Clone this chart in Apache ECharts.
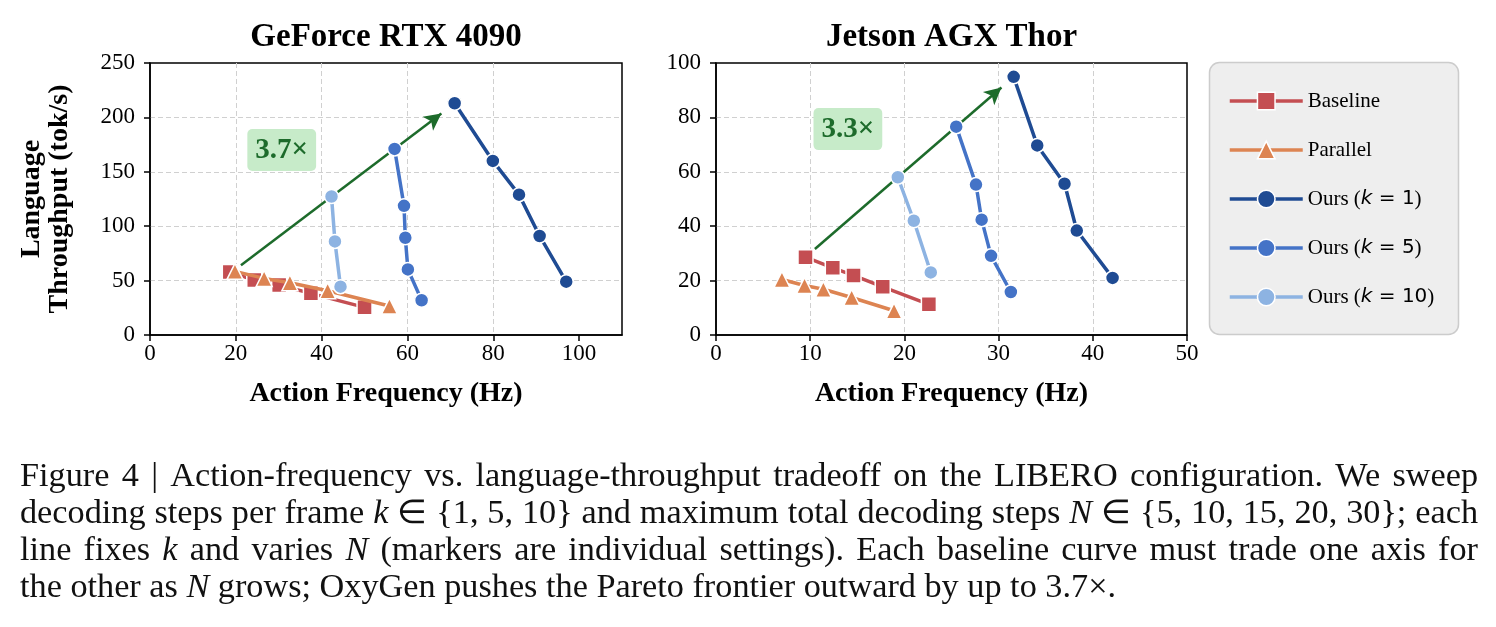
<!DOCTYPE html>
<html>
<head>
<meta charset="utf-8">
<script src="https://cdn.jsdelivr.net/npm/echarts@6/dist/echarts.min.js"></script>
<style>
  html, body { margin: 0; padding: 0; background: #fff; }
  #main { width: 1496px; height: 627px; }
</style>
</head>
<body>
<div id="main"></div>
<script>
// ---- data ----
const seriesNames = ['Baseline', 'Parallel', 'Ours (k = 1)', 'Ours (k = 5)', 'Ours (k = 10)'];

// GeForce RTX 4090
const gpuBaselineX = [18.6, 24.3, 30.1, 37.5, 50.0];
const gpuBaselineY = [57.8, 50.5, 46.0, 38.3, 25.4];
const gpuParallelX = [19.8, 26.6, 32.6, 41.4, 55.8];
const gpuParallelY = [58.5, 52.0, 48.0, 40.7, 26.6];
const gpuK1X = [71.0, 79.9, 86.0, 90.8, 97.0];
const gpuK1Y = [213, 160, 129, 91, 49];
const gpuK5X = [57.0, 59.2, 59.5, 60.1, 63.3];
const gpuK5Y = [171, 118.7, 89.4, 60.3, 31.9];
const gpuK10X = [42.3, 43.1, 44.4];
const gpuK10Y = [127.3, 86, 44.4];

// Jetson AGX Thor
const thorBaselineX = [9.5, 12.4, 14.6, 17.7, 22.6];
const thorBaselineY = [28.6, 24.7, 21.9, 17.7, 11.3];
const thorParallelX = [7.0, 9.4, 11.4, 14.4, 18.9];
const thorParallelY = [20.4, 18.2, 16.8, 13.8, 8.9];
const thorK1X = [31.6, 34.1, 37.0, 38.3, 42.1];
const thorK1Y = [94.9, 69.7, 55.6, 38.4, 21.0];
const thorK5X = [25.5, 27.6, 28.2, 29.2, 31.3];
const thorK5Y = [76.6, 55.3, 42.4, 29.1, 15.8];
const thorK10X = [19.3, 21.0, 22.8];
const thorK10Y = [58.0, 42.0, 23.0];

// tick labels
const gpuXTicks = [0, 20, 40, 60, 80, 100];
const gpuYTicks = [0, 50, 100, 150, 200, 250];
const thorXTicks = [0, 10, 20, 30, 40, 50];
const thorYTicks = [0, 20, 40, 60, 80, 100];

// annotations (arrow start/end, speedup label)
const gpuArrow = [[21.2, 64], [67.9, 203.6]];
const thorArrow = [[10.5, 31.6], [30.3, 91]];
const gpuSpeedup = { at: [30.7, 170], text: '3.7×' };
const thorSpeedup = { at: [14.0, 75.7], text: '3.3×' };

const captionLines = [
  [['Figure 4 | Action-frequency vs. language-throughput tradeoff on the LIBERO configuration. We sweep', 0]],
  [['decoding steps per frame ', 0], ['k', 1], [' ∈ {1, 5, 10} and maximum total decoding steps ', 0], ['N', 1], [' ∈ {5, 10, 15, 20, 30}; each', 0]],
  [['line fixes ', 0], ['k', 1], [' and varies ', 0], ['N', 1], [' (markers are individual settings). Each baseline curve must trade one axis for', 0]],
  [['the other as ', 0], ['N', 1], [' grows; OxyGen pushes the Pareto frontier outward by up to 3.7×.', 0]]
];

// ---- styling ----
const serif = '"Liberation Serif", "Times New Roman", serif';
const colors = {
  'Baseline': '#c44e52',
  'Parallel': '#dd8452',
  'Ours (k = 1)': '#1f4b93',
  'Ours (k = 5)': '#4473c7',
  'Ours (k = 10)': '#8db3e2'
};
const symbols = {
  'Baseline': ['rect', 15],
  'Parallel': ['triangle', 16],
  'Ours (k = 1)': ['circle', 14],
  'Ours (k = 5)': ['circle', 14],
  'Ours (k = 10)': ['circle', 14]
};
const green = '#1d6b2b';

function pairs(xs, ys) {
  return xs.map((x, i) => [x, ys[i]]);
}

function lineSeries(name, xs, ys, gi, z) {
  return {
    name: name,
    type: 'line',
    xAxisIndex: gi,
    yAxisIndex: gi,
    data: pairs(xs, ys),
    symbol: symbols[name][0],
    symbolSize: symbols[name][1],
    showAllSymbol: true,
    z: z,
    lineStyle: { width: 3.5, color: colors[name] },
    itemStyle: { color: colors[name], borderColor: '#fff', borderWidth: 1.5 },
    emphasis: { disabled: true },
    silent: true
  };
}

function annotSeries(gi, arrow, speedup) {
  return {
    name: 'annot' + gi,
    type: 'line',
    xAxisIndex: gi,
    yAxisIndex: gi,
    data: [],
    z: 1,
    silent: true,
    markLine: {
      silent: true,
      symbol: ['none', 'arrow'],
      symbolSize: [13, 17],
      label: { show: false },
      lineStyle: { color: green, width: 2.5, type: 'solid' },
      emphasis: { disabled: true },
      data: [[{ coord: arrow[0] }, { coord: arrow[1] }]]
    },
    markPoint: {
      silent: true,
      symbol: 'rect',
      symbolSize: 1,
      itemStyle: { color: 'rgba(0,0,0,0)' },
      label: {
        show: true,
        position: 'inside',
        formatter: speedup.text,
        color: green,
        fontFamily: serif,
        fontWeight: 'bold',
        fontSize: 29,
        lineHeight: 30,
        backgroundColor: '#c7ebc9',
        borderRadius: 5,
        padding: [6, 8, 6, 8]
      },
      data: [{ coord: speedup.at }]
    }
  };
}

function valueAxis(gi, max, ticks, margin, extra) {
  const ax = {
    type: 'value',
    gridIndex: gi,
    min: 0,
    max: max,
    interval: ticks[1] - ticks[0],
    axisLine: { show: true, onZero: false, lineStyle: { color: '#000', width: 1.5 } },
    axisTick: { show: true, inside: false, length: 6, lineStyle: { color: '#000', width: 1.5 }, customValues: ticks },
    axisLabel: { color: '#000', fontFamily: serif, fontSize: 23, margin: margin, customValues: ticks },
    splitLine: { show: true, showMinLine: false, showMaxLine: false, lineStyle: { color: '#d0d0d0', width: 1, type: [5, 3] } }
  };
  return Object.assign(ax, extra || {});
}

const axisNameStyle = { fontFamily: serif, fontWeight: 'bold', fontSize: 28, color: '#000' };

const option = {
  animation: false,
  backgroundColor: '#fff',
  grid: [
    { left: 150, right: 874, top: 63, bottom: 292, show: true, borderColor: '#000', borderWidth: 1.5, backgroundColor: 'transparent' },
    { left: 716, right: 309, top: 63, bottom: 292, show: true, borderColor: '#000', borderWidth: 1.5, backgroundColor: 'transparent' }
  ],
  xAxis: [
    valueAxis(0, 110, gpuXTicks, 7, { name: 'Action Frequency (Hz)', nameLocation: 'middle', nameGap: 45, nameTextStyle: axisNameStyle }),
    valueAxis(1, 50, thorXTicks, 7, { name: 'Action Frequency (Hz)', nameLocation: 'middle', nameGap: 45, nameTextStyle: axisNameStyle })
  ],
  yAxis: [
    valueAxis(0, 250, gpuYTicks, 15, {
      name: 'Language\nThroughput (tok/s)', nameLocation: 'middle', nameGap: 76,
      nameTextStyle: Object.assign({ lineHeight: 28 }, axisNameStyle)
    }),
    valueAxis(1, 100, thorYTicks, 15)
  ],
  legend: {
    data: seriesNames,
    orient: 'vertical',
    left: 1223,
    top: 85,
    itemWidth: 73,
    itemHeight: 22,
    itemGap: 27,
    itemTextGap: 14,
    selectedMode: false,
    lineStyle: { width: 3.5 },
    itemStyle: { borderColor: '#fff', borderWidth: 1.5 },
    textStyle: {
      fontFamily: serif, fontSize: 21, color: '#000', lineHeight: 22,
      rich: {
        i: { fontFamily: '"DejaVu Sans"', fontStyle: 'italic', fontSize: 20, lineHeight: 22 },
        m: { fontFamily: '"DejaVu Sans"', fontSize: 20, lineHeight: 22 }
      }
    },
    formatter: function (name) {
      const m = name.match(/^Ours \(k = (\d+)\)$/);
      if (!m) return name;
      return 'Ours ({i|k}{m| = ' + m[1] + '})';
    }
  },
  graphic: [],
  series: [
    annotSeries(0, gpuArrow, gpuSpeedup),
    lineSeries('Baseline', gpuBaselineX, gpuBaselineY, 0, 2),
    lineSeries('Parallel', gpuParallelX, gpuParallelY, 0, 3),
    lineSeries('Ours (k = 1)', gpuK1X, gpuK1Y, 0, 4),
    lineSeries('Ours (k = 5)', gpuK5X, gpuK5Y, 0, 5),
    lineSeries('Ours (k = 10)', gpuK10X, gpuK10Y, 0, 6),
    annotSeries(1, thorArrow, thorSpeedup),
    lineSeries('Baseline', thorBaselineX, thorBaselineY, 1, 2),
    lineSeries('Parallel', thorParallelX, thorParallelY, 1, 3),
    lineSeries('Ours (k = 1)', thorK1X, thorK1Y, 1, 4),
    lineSeries('Ours (k = 5)', thorK5X, thorK5Y, 1, 5),
    lineSeries('Ours (k = 10)', thorK10X, thorK10Y, 1, 6)
  ]
};

// titles
const titleStyle = { fontFamily: serif, fontWeight: 'bold', fontSize: 33, fill: '#000', textAlign: 'center', textVerticalAlign: 'middle' };
option.graphic.push({ type: 'text', x: 386, y: 37, style: Object.assign({ text: 'GeForce RTX 4090' }, titleStyle) });
option.graphic.push({ type: 'text', x: 951.5, y: 37, style: Object.assign({ text: 'Jetson AGX Thor' }, titleStyle) });

// legend frame
option.graphic.push({
  type: 'rect', z: 0,
  shape: { x: 1209.5, y: 62.5, width: 249, height: 272, r: 10 },
  style: { fill: '#eeeeee', stroke: '#cccccc', lineWidth: 1.5 }
});

// caption: one horizontal squeeze for all glyphs (mean fit of the four lines),
// lines 1-3 justified by adjusting the word gaps
const capSize = 33;
const capLeft = 20;
const capTargets = [1458, 1458, 1458, 1007];
const capY = [477, 514, 551, 588];
const ctx = document.createElement('canvas').getContext('2d');
function measure(text, italic) {
  ctx.font = (italic ? 'italic ' : '') + capSize + 'px "Liberation Serif"';
  return ctx.measureText(text).width;
}
const spaceW = measure(' ', 0);
const capWords = captionLines.map(function (segs) {
  const words = [];
  segs.forEach(function (s) {
    s[0].split(' ').forEach(function (w) {
      if (w) words.push({ text: w, italic: s[1], w: measure(w, s[1]) });
    });
  });
  return words;
});
function naturalWidth(words) {
  return words.reduce((a, w) => a + w.w, 0) + spaceW * (words.length - 1);
}
const lastIdx = capWords.length - 1;
const fits = capWords.map((words, li) => capTargets[li] / naturalWidth(words));
const squeeze = fits.reduce((a, b) => a + b, 0) / fits.length;

capWords.forEach(function (words, li) {
  const inkW = words.reduce((a, w) => a + w.w, 0) * squeeze;
  const gap = li === lastIdx ? spaceW * squeeze : (capTargets[li] - inkW) / (words.length - 1);
  let x = capLeft;
  words.forEach(function (w) {
    option.graphic.push({
      type: 'text',
      x: x,
      y: capY[li],
      scaleX: squeeze,
      style: {
        text: w.text, fill: '#111', fontFamily: '"Liberation Serif"', fontSize: capSize,
        fontStyle: w.italic ? 'italic' : 'normal', textVerticalAlign: 'middle', textAlign: 'left'
      }
    });
    x += w.w * squeeze + gap;
  });
});

const myChart = echarts.init(document.getElementById('main'));
myChart.setOption(option);
</script>
</body>
</html>
